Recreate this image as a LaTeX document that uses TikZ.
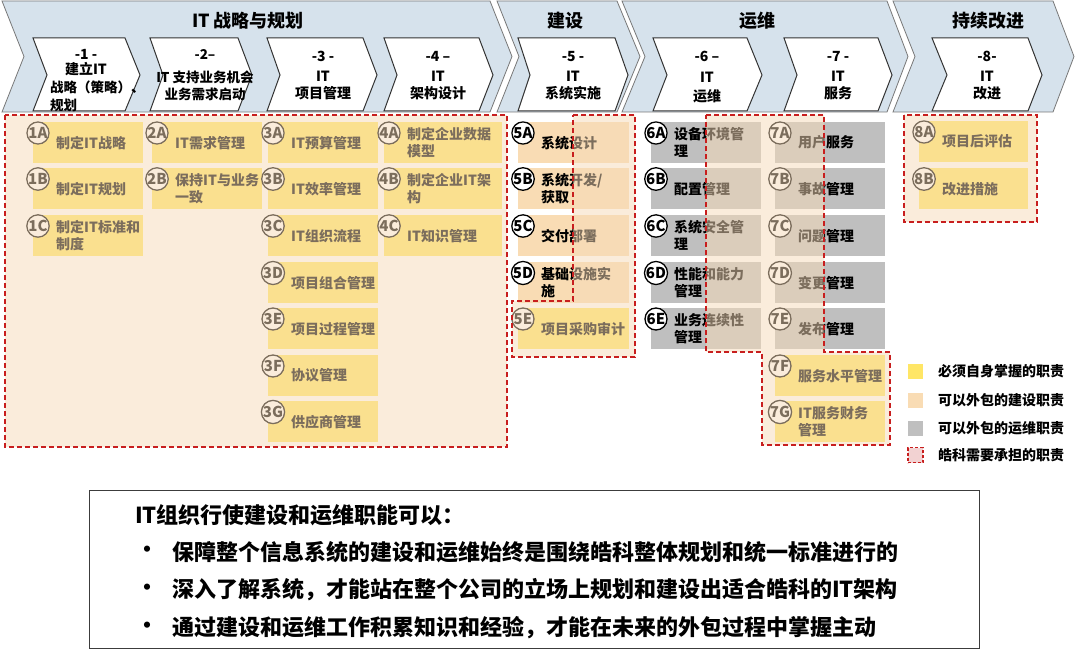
\documentclass[tikz,border=0pt]{standalone}
\usepackage{fontspec}
\setmainfont{Noto Sans CJK SC}
\definecolor{chevblue}{RGB}{214,226,236}
\definecolor{chevline}{RGB}{120,120,120}
\definecolor{yel}{RGB}{255,230,102}
\definecolor{org}{RGB}{249,220,180}
\definecolor{gry}{RGB}{191,191,191}
\definecolor{ovl}{RGB}{247,219,185}
\definecolor{dashred}{RGB}{200,30,30}
\definecolor{pinkc}{RGB}{242,210,210}
\definecolor{boxline}{RGB}{60,60,60}
\newcommand{\duty}[7]{%
  \pgfmathsetmacro\dutyw{#3-#2}%
  \node[dutybox, fill=#5, minimum width=\dutyw pt] (#1) at (#2,#4) {};
  \node[dutytext] (#1t) at ([xshift=23pt]#1.west) {#7};
  \node[dutycirc] (#1c) at ([xshift=5pt,yshift=-11pt]#1.north west) {#6};
}
\begin{document}
\begin{tikzpicture}[x=1pt,y=-1pt,
  bigchev/.style={fill=chevblue, draw=chevline, line width=0.8pt},
  smallchev/.style={fill=white, draw=black!80, line width=1pt},
  hdr/.style={font=\bfseries\fontsize{18}{20}\selectfont, inner sep=0},
  chtext/.style={font=\bfseries\fontsize{14}{17}\selectfont, align=center, inner sep=0},
  dutybox/.style={rectangle, minimum height=41pt, inner sep=0, draw=none, anchor=north west},
  dutytext/.style={font=\bfseries\fontsize{14}{17}\selectfont, align=left, inner sep=0, anchor=west},
  dutycirc/.style={circle, draw=black, line width=1.3pt, fill=white, minimum size=22pt, inner sep=0, font=\bfseries\fontsize{15}{15}\selectfont},
  region/.style={fill=ovl, fill opacity=0.5, draw=dashred, draw opacity=1, line width=1.3pt, dash pattern=on 5pt off 3pt},
  legtext/.style={font=\bfseries\fontsize{14}{17}\selectfont, anchor=west, inner sep=0},
  sw/.style={minimum size=15pt, inner sep=0},
  bottomtext/.style={font=\bfseries\fontsize{22}{24}\selectfont, anchor=west, inner sep=0}]
\useasboundingbox (0,0) rectangle (1080,655);
\fill[white] (0,0) rectangle (1080,655);

% big chevrons
\draw[bigchev] (2,1) -- (490,1) -- (512,56.5) -- (490,112) -- (2,112) -- (24,56.5) -- cycle;
\draw[bigchev] (497,1) -- (617,1) -- (640,56.5) -- (617,112) -- (497,112) -- (519,56.5) -- cycle;
\draw[bigchev] (622,1) -- (887,1) -- (908,56.5) -- (887,112) -- (622,112) -- (645,56.5) -- cycle;
\draw[bigchev] (893,1) -- (1053,1) -- (1074,56.5) -- (1053,112) -- (893,112) -- (915,56.5) -- cycle;

\node[hdr] (t1) at (248,21) {IT 战略与规划};
\node[hdr] (t2) at (565,21) {建设};
\node[hdr] (t3) at (757,21) {运维};
\node[hdr] (t4) at (988,21) {持续改进};

% inner chevrons
\draw[smallchev] (33,38) -- (125,38) -- (140,75) -- (125,111) -- (33,111) -- (47,75) -- cycle;
\draw[smallchev] (150,38) -- (238,38) -- (252,75) -- (238,111) -- (150,111) -- (163,75) -- cycle;
\draw[smallchev] (267,38) -- (363,38) -- (377,75) -- (363,111) -- (267,111) -- (280,75) -- cycle;
\draw[smallchev] (384,38) -- (479,38) -- (493,75) -- (479,111) -- (384,111) -- (397,75) -- cycle;
\draw[smallchev] (518,38) -- (615,38) -- (628,75) -- (615,111) -- (518,111) -- (530,75) -- cycle;
\draw[smallchev] (653,38) -- (747,38) -- (762,75) -- (747,111) -- (653,111) -- (667,75) -- cycle;
\draw[smallchev] (784,38) -- (878,38) -- (892,75) -- (878,111) -- (784,111) -- (797,75) -- cycle;
\draw[smallchev] (932,38) -- (1028,38) -- (1042,75) -- (1028,111) -- (932,111) -- (947,75) -- cycle;

\node[chtext] (c1a) at (86,62.5) {-1 -\\[-2pt]建立IT};
\node[chtext, font=\bfseries\fontsize{13.5}{17}\selectfont, align=left, anchor=west] (c1b) at (50,96) {战略（策略）、\\[1pt]规划};
\node[chtext, font=\bfseries\fontsize{13.5}{17}\selectfont] (c2) at (205,75) {-2–\\[6pt]IT 支持业务机会\\业务需求启动};
\node[chtext] (c3) at (323,75.5) {-3 -\\[3pt]IT\\项目管理};
\node[chtext] (c4) at (438,75.5) {-4 –\\[3pt]IT\\架构设计};
\node[chtext] (c5) at (573,75.5) {-5 -\\[3pt]IT\\系统实施};
\node[chtext] (c6) at (707,77) {-6 –\\[4pt]IT\\[2pt]运维};
\node[chtext] (c7) at (838,75.5) {-7 -\\[3pt]IT\\服务};
\node[chtext] (c8) at (987,75.5) {-8-\\[3pt]IT\\改进};

% duty boxes
\duty{d1A}{33}{143}{122}{yel}{1A}{制定IT战略}
\duty{d1B}{33}{143}{168}{yel}{1B}{制定IT规划}
\duty{d1C}{33}{143}{215}{yel}{1C}{制定IT标准和\\制度}
\duty{d2A}{152}{262}{122}{yel}{2A}{IT需求管理}
\duty{d2B}{152}{262}{168}{yel}{2B}{保持IT与业务\\一致}
\duty{d3A}{268}{378}{122}{yel}{3A}{IT预算管理}
\duty{d3B}{268}{378}{168}{yel}{3B}{IT效率管理}
\duty{d3C}{268}{378}{215}{yel}{3C}{IT组织流程}
\duty{d3D}{268}{378}{262}{yel}{3D}{项目组合管理}
\duty{d3E}{268}{378}{308}{yel}{3E}{项目过程管理}
\duty{d3F}{268}{378}{355}{yel}{3F}{协议管理}
\duty{d3G}{268}{378}{401}{yel}{3G}{供应商管理}
\duty{d4A}{384}{502}{122}{yel}{4A}{制定企业数据\\模型}
\duty{d4B}{384}{502}{168}{yel}{4B}{制定企业IT架\\构}
\duty{d4C}{384}{502}{215}{yel}{4C}{IT知识管理}
\duty{d5A}{518}{629}{122}{org}{5A}{系统设计}
\duty{d5B}{518}{629}{168}{org}{5B}{系统开发/\\获取}
\duty{d5C}{518}{629}{215}{org}{5C}{交付部署}
\duty{d5D}{518}{629}{262}{org}{5D}{基础设施实\\施}
\duty{d5E}{518}{629}{308}{yel}{5E}{项目采购审计}
\duty{d6A}{651}{761}{122}{gry}{6A}{设备环境管\\理}
\duty{d6B}{651}{761}{168}{gry}{6B}{配置管理}
\duty{d6C}{651}{761}{215}{gry}{6C}{系统安全管\\理}
\duty{d6D}{651}{761}{262}{gry}{6D}{性能和能力\\管理}
\duty{d6E}{651}{761}{308}{gry}{6E}{业务连续性\\管理}
\duty{d7A}{775}{885}{122}{gry}{7A}{用户服务}
\duty{d7B}{775}{885}{168}{gry}{7B}{事故管理}
\duty{d7C}{775}{885}{215}{gry}{7C}{问题管理}
\duty{d7D}{775}{885}{262}{gry}{7D}{变更管理}
\duty{d7E}{775}{885}{308}{gry}{7E}{发布管理}
\duty{d7F}{775}{885}{355}{yel}{7F}{服务水平管理}
\duty{d7G}{775}{885}{401}{yel}{7G}{IT服务财务\\管理}
\duty{d8A}{919}{1028}{121}{yel}{8A}{项目后评估}
\duty{d8B}{919}{1028}{168}{yel}{8B}{改进措施}

% responsibility overlays
\draw[region] (5,115) rectangle (507,447);
\draw[region] (573,115) -- (635,115) -- (635,357) -- (512,357) -- (512,301) -- (573,301) -- cycle;
\draw[region] (706,115) -- (824,115) -- (824,352) -- (890,352) -- (890,445) -- (762,445) -- (762,352) -- (706,352) -- cycle;
\draw[region] (904,115) rectangle (1037,222);

% legend
\node[sw, fill=yel] (s1) at (915.5,371) {};
\node[legtext] (l1) at (938,371) {必须自身掌握的职责};
\node[sw, fill=org] (s2) at (915.5,400) {};
\node[legtext] (l2) at (938,400) {可以外包的建设职责};
\node[sw, fill=gry] (s3) at (915.5,428) {};
\node[legtext] (l3) at (938,428) {可以外包的运维职责};
\node[sw, fill=pinkc, draw=dashred, line width=1.1pt, dash pattern=on 3pt off 2pt] (s4) at (915.5,455) {};
\node[legtext] (l4) at (938,455) {皓科需要承担的职责};

% bottom box
\node[draw=boxline, line width=1.2pt, minimum width=890pt, minimum height=158pt, anchor=north west, inner sep=0] (bb) at (89,490) {};
\node[bottomtext] (bt) at (135,515) {IT组织行使建设和运维职能可以：};
\node[bottomtext] (u1) at (136,552) {•};
\node[bottomtext] (b1) at (172,552) {保障整个信息系统的建设和运维始终是围绕皓科整体规划和统一标准进行的};
\node[bottomtext] (u2) at (136,590) {•};
\node[bottomtext] (b2) at (172,590) {深入了解系统，才能站在整个公司的立场上规划和建设出适合皓科的IT架构};
\node[bottomtext] (u3) at (136,628) {•};
\node[bottomtext] (b3) at (172,628) {通过建设和运维工作积累知识和经验，才能在未来的外包过程中掌握主动};
\end{tikzpicture}
\end{document}
